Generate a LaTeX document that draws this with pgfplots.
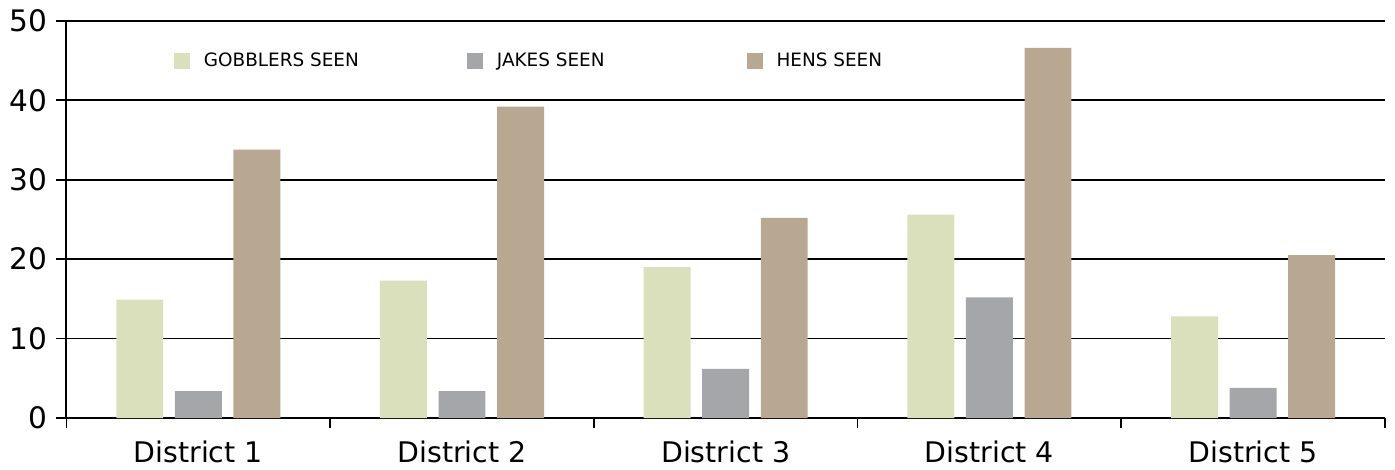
\documentclass[border=0pt]{standalone}
\usepackage{pgfplots}
\pgfplotsset{compat=1.18}
\usepackage{fontspec}
\setmainfont{DejaVu Sans}
\definecolor{gobbler}{RGB}{218,224,188}
\definecolor{jake}{RGB}{165,166,170}
\definecolor{hen}{RGB}{185,168,145}
\begin{document}
\begin{tikzpicture}
\begin{axis}[
  scale only axis,
  width=659pt, height=198.5pt,
  ybar, bar width=0.178,
  xmin=-0.5, xmax=4.5,
  ymin=0, ymax=50,
  ytick={0,10,...,50},
  xtick={0,...,4},
  xticklabels={District 1,District 2,District 3,District 4,District 5},
  minor xtick={-0.5,0.5,...,4.5},
  major x tick style={draw=none},
  minor tick length=5pt,
  major tick length=5pt,
  tick align=outside,
  tick style={black, line width=0.8pt},
  axis x line*=bottom, axis y line*=left,
  axis line style={-, line width=1pt},
  ymajorgrids, grid style={black, line width=0.8pt},
  y tick label style={font=\fontsize{14.8}{16}\selectfont, xshift=-1pt},
  x tick label style={font=\fontsize{14.2}{16}\selectfont, yshift=-3pt},
  /pgf/number format/assume math mode=true,
  legend columns=3,
  legend style={at={(rel axis cs:0.0812,0.899)}, anchor=west, draw=none,
    fill=none, inner sep=0pt, font=\fontsize{9.2}{11}\selectfont,
    /tikz/column 1/.style={column sep=5pt},
    /tikz/column 3/.style={column sep=5pt},
    /tikz/column 5/.style={column sep=5pt},
    /tikz/column 2/.style={column sep=52pt},
    /tikz/column 4/.style={column sep=69pt}},
  legend image code/.code={\fill[#1] (0pt,-4pt) rectangle (8pt,4pt);},
]
\addplot[fill=gobbler, draw=none, bar shift=-0.222] coordinates {(0,14.9) (1,17.3) (2,19.0) (3,25.6) (4,12.8)};
\addplot[fill=jake, draw=none, bar shift=0] coordinates {(0,3.4) (1,3.4) (2,6.2) (3,15.2) (4,3.8)};
\addplot[fill=hen, draw=none, bar shift=0.222] coordinates {(0,33.8) (1,39.2) (2,25.2) (3,46.6) (4,20.5)};
\legend{GOBBLERS SEEN, JAKES SEEN, HENS SEEN}
\end{axis}
\path (current axis.east) ++(5pt,0);
\path ([xshift=-1.5pt,yshift=1.5pt]current bounding box.north west);
\end{tikzpicture}
\end{document}
